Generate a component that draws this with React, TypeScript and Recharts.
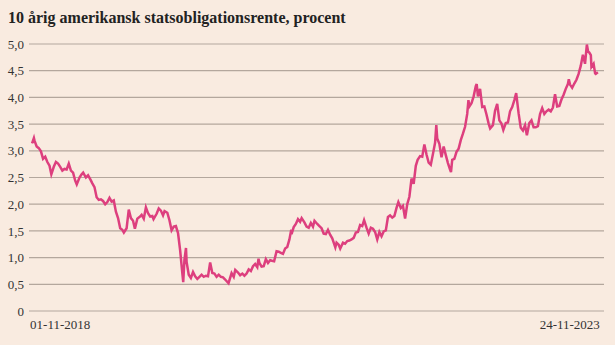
import { LineChart, Line, XAxis, YAxis, CartesianGrid } from "recharts";

const dates2018 = ["2018-11-01", "2018-11-07", "2018-11-09", "2018-11-16", "2018-11-23", "2018-11-30", "2018-12-07", "2018-12-14", "2018-12-21", "2018-12-28"];
const yields2018 = [3.14, 3.24, 3.19, 3.08, 3.05, 2.99, 2.85, 2.89, 2.79, 2.72];

const dates2019 = ["2019-01-03", "2019-01-11", "2019-01-18", "2019-01-25", "2019-02-01", "2019-02-08", "2019-02-15", "2019-02-22", "2019-03-01", "2019-03-08", "2019-03-15", "2019-03-22", "2019-03-27", "2019-04-05", "2019-04-12", "2019-04-17", "2019-04-26", "2019-05-03", "2019-05-10", "2019-05-17", "2019-05-24", "2019-05-31", "2019-06-07", "2019-06-14", "2019-06-21", "2019-06-28", "2019-07-05", "2019-07-12", "2019-07-19", "2019-07-26", "2019-08-02", "2019-08-09", "2019-08-16", "2019-08-23", "2019-08-28", "2019-09-06", "2019-09-13", "2019-09-20", "2019-09-27", "2019-10-03", "2019-10-11", "2019-10-18", "2019-10-25", "2019-11-01", "2019-11-08", "2019-11-15", "2019-11-22", "2019-11-29", "2019-12-03", "2019-12-13", "2019-12-20", "2019-12-27"];
const yields2019 = [2.56, 2.7, 2.79, 2.76, 2.7, 2.63, 2.66, 2.65, 2.76, 2.63, 2.59, 2.44, 2.37, 2.5, 2.56, 2.59, 2.5, 2.54, 2.47, 2.39, 2.32, 2.13, 2.08, 2.09, 2.06, 2.0, 2.04, 2.12, 2.05, 2.07, 1.86, 1.74, 1.55, 1.52, 1.47, 1.55, 1.9, 1.74, 1.69, 1.54, 1.73, 1.76, 1.8, 1.73, 1.94, 1.83, 1.77, 1.78, 1.72, 1.82, 1.92, 1.88];

const dates2020 = ["2020-01-03", "2020-01-08", "2020-01-17", "2020-01-24", "2020-01-31", "2020-02-07", "2020-02-14", "2020-02-21", "2020-02-28", "2020-03-06", "2020-03-09", "2020-03-13", "2020-03-18", "2020-03-20", "2020-03-27", "2020-04-03", "2020-04-10", "2020-04-17", "2020-04-24", "2020-05-01", "2020-05-08", "2020-05-15", "2020-05-22", "2020-05-29", "2020-06-05", "2020-06-12", "2020-06-19", "2020-06-26", "2020-07-03", "2020-07-10", "2020-07-17", "2020-07-24", "2020-08-04", "2020-08-14", "2020-08-21", "2020-08-26", "2020-09-04", "2020-09-11", "2020-09-18", "2020-09-25", "2020-10-02", "2020-10-09", "2020-10-16", "2020-10-23", "2020-10-30", "2020-11-06", "2020-11-10", "2020-11-13", "2020-11-20", "2020-11-27", "2020-12-04", "2020-12-11", "2020-12-18", "2020-12-24", "2020-12-31"];
const yields2020 = [1.79, 1.87, 1.84, 1.7, 1.51, 1.58, 1.59, 1.46, 1.13, 0.71, 0.54, 0.96, 1.18, 0.92, 0.68, 0.62, 0.73, 0.65, 0.6, 0.64, 0.68, 0.64, 0.66, 0.65, 0.91, 0.71, 0.7, 0.64, 0.68, 0.64, 0.63, 0.59, 0.52, 0.71, 0.64, 0.77, 0.72, 0.67, 0.7, 0.66, 0.7, 0.78, 0.75, 0.84, 0.88, 0.82, 0.98, 0.9, 0.83, 0.84, 0.97, 0.9, 0.95, 0.94, 0.93];

const dates2021 = ["2021-01-08", "2021-01-15", "2021-01-22", "2021-01-29", "2021-02-05", "2021-02-12", "2021-02-19", "2021-02-25", "2021-02-26", "2021-03-05", "2021-03-12", "2021-03-19", "2021-03-26", "2021-03-31", "2021-04-09", "2021-04-16", "2021-04-23", "2021-04-30", "2021-05-07", "2021-05-12", "2021-05-21", "2021-05-28", "2021-06-04", "2021-06-11", "2021-06-18", "2021-06-25", "2021-07-02", "2021-07-09", "2021-07-19", "2021-07-23", "2021-07-30", "2021-08-04", "2021-08-13", "2021-08-20", "2021-08-27", "2021-09-03", "2021-09-10", "2021-09-17", "2021-09-24", "2021-10-01", "2021-10-08", "2021-10-15", "2021-10-21", "2021-10-29", "2021-11-05", "2021-11-12", "2021-11-19", "2021-11-26", "2021-12-03", "2021-12-10", "2021-12-17", "2021-12-24", "2021-12-31"];
const yields2021 = [1.12, 1.11, 1.09, 1.07, 1.17, 1.2, 1.34, 1.52, 1.44, 1.57, 1.63, 1.72, 1.67, 1.74, 1.66, 1.58, 1.56, 1.65, 1.58, 1.69, 1.63, 1.59, 1.55, 1.45, 1.44, 1.52, 1.43, 1.36, 1.19, 1.28, 1.24, 1.17, 1.28, 1.26, 1.31, 1.32, 1.34, 1.37, 1.47, 1.48, 1.61, 1.59, 1.7, 1.56, 1.45, 1.56, 1.54, 1.48, 1.34, 1.48, 1.4, 1.49, 1.51];

const dates2022 = ["2022-01-07", "2022-01-14", "2022-01-21", "2022-01-28", "2022-02-04", "2022-02-10", "2022-02-18", "2022-02-25", "2022-03-04", "2022-03-11", "2022-03-18", "2022-03-25", "2022-04-01", "2022-04-08", "2022-04-14", "2022-04-22", "2022-04-29", "2022-05-06", "2022-05-13", "2022-05-20", "2022-05-27", "2022-06-03", "2022-06-10", "2022-06-14", "2022-06-17", "2022-06-24", "2022-07-01", "2022-07-08", "2022-07-15", "2022-07-22", "2022-07-29", "2022-08-01", "2022-08-05", "2022-08-12", "2022-08-19", "2022-08-26", "2022-09-02", "2022-09-09", "2022-09-16", "2022-09-23", "2022-09-27", "2022-09-30", "2022-10-07", "2022-10-14", "2022-10-21", "2022-10-24", "2022-10-28", "2022-11-04", "2022-11-11", "2022-11-18", "2022-11-25", "2022-12-02", "2022-12-07", "2022-12-16", "2022-12-23", "2022-12-30"];
const yields2022 = [1.76, 1.79, 1.75, 1.78, 1.93, 2.04, 1.93, 1.97, 1.73, 2.0, 2.14, 2.48, 2.38, 2.72, 2.83, 2.9, 2.89, 3.12, 2.93, 2.78, 2.74, 2.94, 3.15, 3.48, 3.23, 3.13, 2.88, 3.08, 2.92, 2.77, 2.65, 2.6, 2.83, 2.85, 2.98, 3.04, 3.2, 3.32, 3.45, 3.69, 3.95, 3.83, 3.89, 4.02, 4.21, 4.25, 4.02, 4.16, 3.82, 3.83, 3.68, 3.51, 3.42, 3.48, 3.75, 3.88];

const dates2023 = ["2023-01-06", "2023-01-13", "2023-01-19", "2023-01-27", "2023-02-03", "2023-02-10", "2023-02-17", "2023-02-24", "2023-03-02", "2023-03-10", "2023-03-17", "2023-03-24", "2023-03-31", "2023-04-06", "2023-04-14", "2023-04-21", "2023-04-28", "2023-05-05", "2023-05-12", "2023-05-19", "2023-05-26", "2023-06-02", "2023-06-09", "2023-06-16", "2023-06-23", "2023-06-30", "2023-07-07", "2023-07-14", "2023-07-21", "2023-07-28", "2023-08-04", "2023-08-11", "2023-08-18", "2023-08-21", "2023-08-25", "2023-09-01", "2023-09-08", "2023-09-15", "2023-09-22", "2023-09-29", "2023-10-06", "2023-10-13", "2023-10-19", "2023-10-23", "2023-10-27", "2023-11-01", "2023-11-03", "2023-11-10", "2023-11-15", "2023-11-17", "2023-11-24"];
const yields2023 = [3.57, 3.51, 3.39, 3.52, 3.53, 3.74, 3.82, 3.95, 4.08, 3.7, 3.43, 3.38, 3.48, 3.29, 3.52, 3.57, 3.44, 3.44, 3.46, 3.69, 3.8, 3.69, 3.74, 3.77, 3.74, 3.81, 4.06, 3.83, 3.84, 3.96, 4.05, 4.16, 4.25, 4.34, 4.24, 4.18, 4.26, 4.33, 4.44, 4.59, 4.8, 4.63, 4.99, 4.86, 4.84, 4.79, 4.57, 4.63, 4.45, 4.44, 4.47];

const yTicks = [0, 0.5, 1, 1.5, 2, 2.5, 3, 3.5, 4, 4.5, 5];
const xTickLabels = ["01-11-2018", "24-11-2023"];

const allDates = [...dates2018, ...dates2019, ...dates2020, ...dates2021, ...dates2022, ...dates2023];
const allYields = [...yields2018, ...yields2019, ...yields2020, ...yields2021, ...yields2022, ...yields2023];
const data = allDates.map((d, i) => ({ t: Date.parse(d), v: allYields[i] }));

const DAY = 86400000;
const firstT = data[0].t;
const lastT = data[data.length - 1].t;

const fontFamily = '"Liberation Serif", "Times New Roman", serif';

const XTick = (props: any) => {
  const { x, y, payload } = props;
  const first = payload.value === firstT;
  return (
    <text
      x={first ? x - 2 : x + 2}
      y={y}
      dy="0.71em"
      textAnchor={first ? "start" : "end"}
      fill="#333"
      fontSize={13}
      fontFamily={fontFamily}
    >
      {first ? xTickLabels[0] : xTickLabels[1]}
    </text>
  );
};

const App = () => {
  return (
    <div
      style={{
        position: "absolute",
        left: 0,
        top: 0,
        width: 615,
        height: 345,
        background: "#f9ebe0",
        fontFamily,
      }}
    >
      <div
        style={{
          position: "absolute",
          left: 8,
          top: 9,
          fontSize: 16,
          fontWeight: "bold",
          color: "#222",
        }}
      >
        10 årig amerikansk statsobligationsrente, procent
      </div>
      <LineChart
        width={615}
        height={345}
        data={data}
        margin={{ top: 44, right: 11, bottom: 4, left: 0 }}
      >
        <CartesianGrid vertical={false} stroke="#b4a79d" strokeWidth={1.2} />
        <XAxis
          dataKey="t"
          type="number"
          scale="time"
          domain={[firstT - 10 * DAY, lastT + 20 * DAY]}
          ticks={[firstT, lastT]}
          interval={0}
          tick={<XTick />}
          tickLine={false}
          axisLine={false}
          tickSize={0}
          tickMargin={9}
          height={30}
        />
        <YAxis
          domain={[0, 5]}
          ticks={yTicks}
          interval={0}
          tickFormatter={(v: number) => (v === 0 ? "0" : v.toFixed(1).replace(".", ","))}
          tick={{ fill: "#333", fontSize: 13, fontFamily }}
          tickLine={false}
          axisLine={false}
          tickSize={0}
          tickMargin={5}
          width={29}
        />
        <Line
          type="linear"
          dataKey="v"
          stroke="#dd3f7e"
          strokeWidth={2.5}
          dot={false}
          isAnimationActive={false}
        />
      </LineChart>
    </div>
  );
};

export default App;
